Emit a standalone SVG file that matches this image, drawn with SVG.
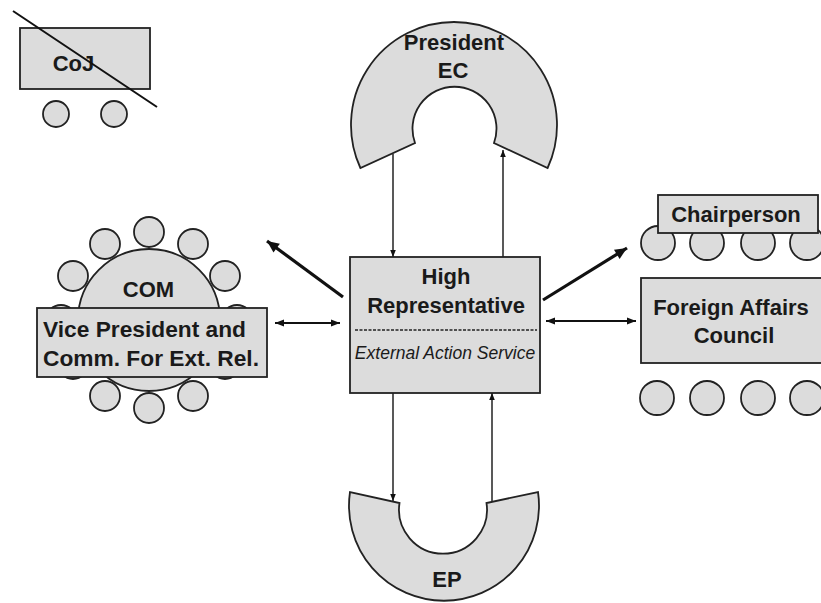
<svg xmlns="http://www.w3.org/2000/svg" width="821" height="603" viewBox="0 0 821 603">
<style>
.s{fill:#dcdcdc;stroke:#222;stroke-width:1.8}
.t{font-family:"Liberation Sans",Arial,sans-serif;font-weight:bold;font-size:22px;fill:#1a1a1a}
.i{font-family:"Liberation Sans",Arial,sans-serif;font-style:italic;font-size:17.5px;fill:#1a1a1a}
.thin{stroke:#222;stroke-width:1.5;fill:none}
.mid{stroke:#111;stroke-width:2.2;fill:none}
.thick{stroke:#111;stroke-width:3.2;fill:none}
</style>
<defs>
<marker id="ah" viewBox="0 0 10 10" refX="10" refY="5" markerWidth="7" markerHeight="7" markerUnits="userSpaceOnUse" orient="auto-start-reverse"><path d="M0,1 L10,5 L0,9 Z" fill="#111"/></marker>
<marker id="am" viewBox="0 0 10 10" refX="10" refY="5" markerWidth="10" markerHeight="9" markerUnits="userSpaceOnUse" orient="auto-start-reverse"><path d="M0,1 L10,5 L0,9 Z" fill="#111"/></marker>
<marker id="ak" viewBox="0 0 10 10" refX="10" refY="5" markerWidth="14" markerHeight="12" markerUnits="userSpaceOnUse" orient="auto-start-reverse"><path d="M0,0.5 L10,5 L0,9.5 Z" fill="#111"/></marker>
</defs>
<rect width="821" height="603" fill="#fff"/>

<g id="coj">
<rect class="s" x="20" y="28" width="130" height="61"/>
<text class="t" x="73.5" y="71" text-anchor="middle">CoJ</text>
<line x1="13" y1="11" x2="157" y2="107" stroke="#111" stroke-width="2"/>
<circle class="s" cx="56" cy="114" r="13"/>
<circle class="s" cx="114" cy="114" r="13"/>
</g>

<g id="president-ec">
<path class="s" d="M360.4 168 A103 103 0 1 1 547.6 168 L494 143 A42 42 0 1 0 415 143 Z"/>
<text class="t" x="454" y="50" text-anchor="middle">President</text>
<text class="t" x="453" y="78" text-anchor="middle">EC</text>
</g>

<g id="ep">
<path class="s" d="M350 492 A95 95 0 1 0 538 492 L486.5 503 A44 44 0 1 1 399.5 503 Z"/>
<text class="t" x="447" y="587" text-anchor="middle">EP</text>
</g>

<g id="com">
<circle class="s" cx="149" cy="232" r="15"/>
<circle class="s" cx="105" cy="244" r="15"/>
<circle class="s" cx="193" cy="244" r="15"/>
<circle class="s" cx="73" cy="276" r="15"/>
<circle class="s" cx="225" cy="276" r="15"/>
<circle class="s" cx="61" cy="320" r="15"/>
<circle class="s" cx="237" cy="320" r="15"/>
<circle class="s" cx="73" cy="364" r="15"/>
<circle class="s" cx="225" cy="364" r="15"/>
<circle class="s" cx="105" cy="396" r="15"/>
<circle class="s" cx="193" cy="396" r="15"/>
<circle class="s" cx="149" cy="408" r="15"/>
<circle class="s" cx="149" cy="320" r="71"/>
<text class="t" x="148.5" y="297" text-anchor="middle">COM</text>
</g>

<g id="vice-president">
<rect class="s" x="37" y="308" width="230" height="69" stroke-width="2.2"/>
<text class="t" x="43" y="337" textLength="203" lengthAdjust="spacingAndGlyphs">Vice President and</text>
<text class="t" x="43" y="366" textLength="216" lengthAdjust="spacingAndGlyphs">Comm. For Ext. Rel.</text>
</g>

<g id="high-representative">
<rect class="s" x="350" y="257" width="190" height="136" stroke-width="2.2"/>
<text class="t" x="446" y="284" text-anchor="middle">High</text>
<text class="t" x="446" y="312.5" text-anchor="middle">Representative</text>
<line x1="355" y1="330" x2="537" y2="330" stroke="#222" stroke-width="1.5" stroke-dasharray="3 1.5"/>
<text class="i" x="445" y="359" text-anchor="middle">External Action Service</text>
</g>

<g id="chairperson">
<circle class="s" cx="658" cy="243" r="17"/>
<circle class="s" cx="707" cy="243" r="17"/>
<circle class="s" cx="758" cy="243" r="17"/>
<circle class="s" cx="807" cy="243" r="17"/>
<rect class="s" x="658" y="195" width="160" height="38" stroke-width="2"/>
<text class="t" x="736" y="222" text-anchor="middle">Chairperson</text>
</g>

<g id="foreign-affairs-council">
<rect class="s" x="641" y="278" width="190" height="85" stroke-width="2"/>
<text class="t" x="731" y="315" text-anchor="middle">Foreign Affairs</text>
<text class="t" x="734" y="343" text-anchor="middle">Council</text>
<circle class="s" cx="657" cy="398" r="17"/>
<circle class="s" cx="707" cy="398" r="17"/>
<circle class="s" cx="758" cy="398" r="17"/>
<circle class="s" cx="807" cy="398" r="17"/>
</g>

<g id="connectors">
<line class="thin" x1="393" y1="154" x2="393" y2="257" marker-end="url(#ah)"/>
<line class="thin" x1="503" y1="257" x2="503" y2="150" marker-end="url(#ah)"/>
<line class="thin" x1="393" y1="393" x2="393" y2="501" marker-end="url(#ah)"/>
<line class="thin" x1="492" y1="501" x2="492" y2="393" marker-end="url(#ah)"/>
<line class="thick" x1="343" y1="297" x2="267" y2="241" marker-end="url(#ak)"/>
<line class="thick" x1="543" y1="300" x2="627" y2="248" marker-end="url(#ak)"/>
<line class="mid" x1="275" y1="323" x2="340" y2="323" marker-start="url(#am)" marker-end="url(#am)"/>
<line class="mid" x1="546" y1="321" x2="636" y2="321" marker-start="url(#am)" marker-end="url(#am)"/>
</g>
</svg>
